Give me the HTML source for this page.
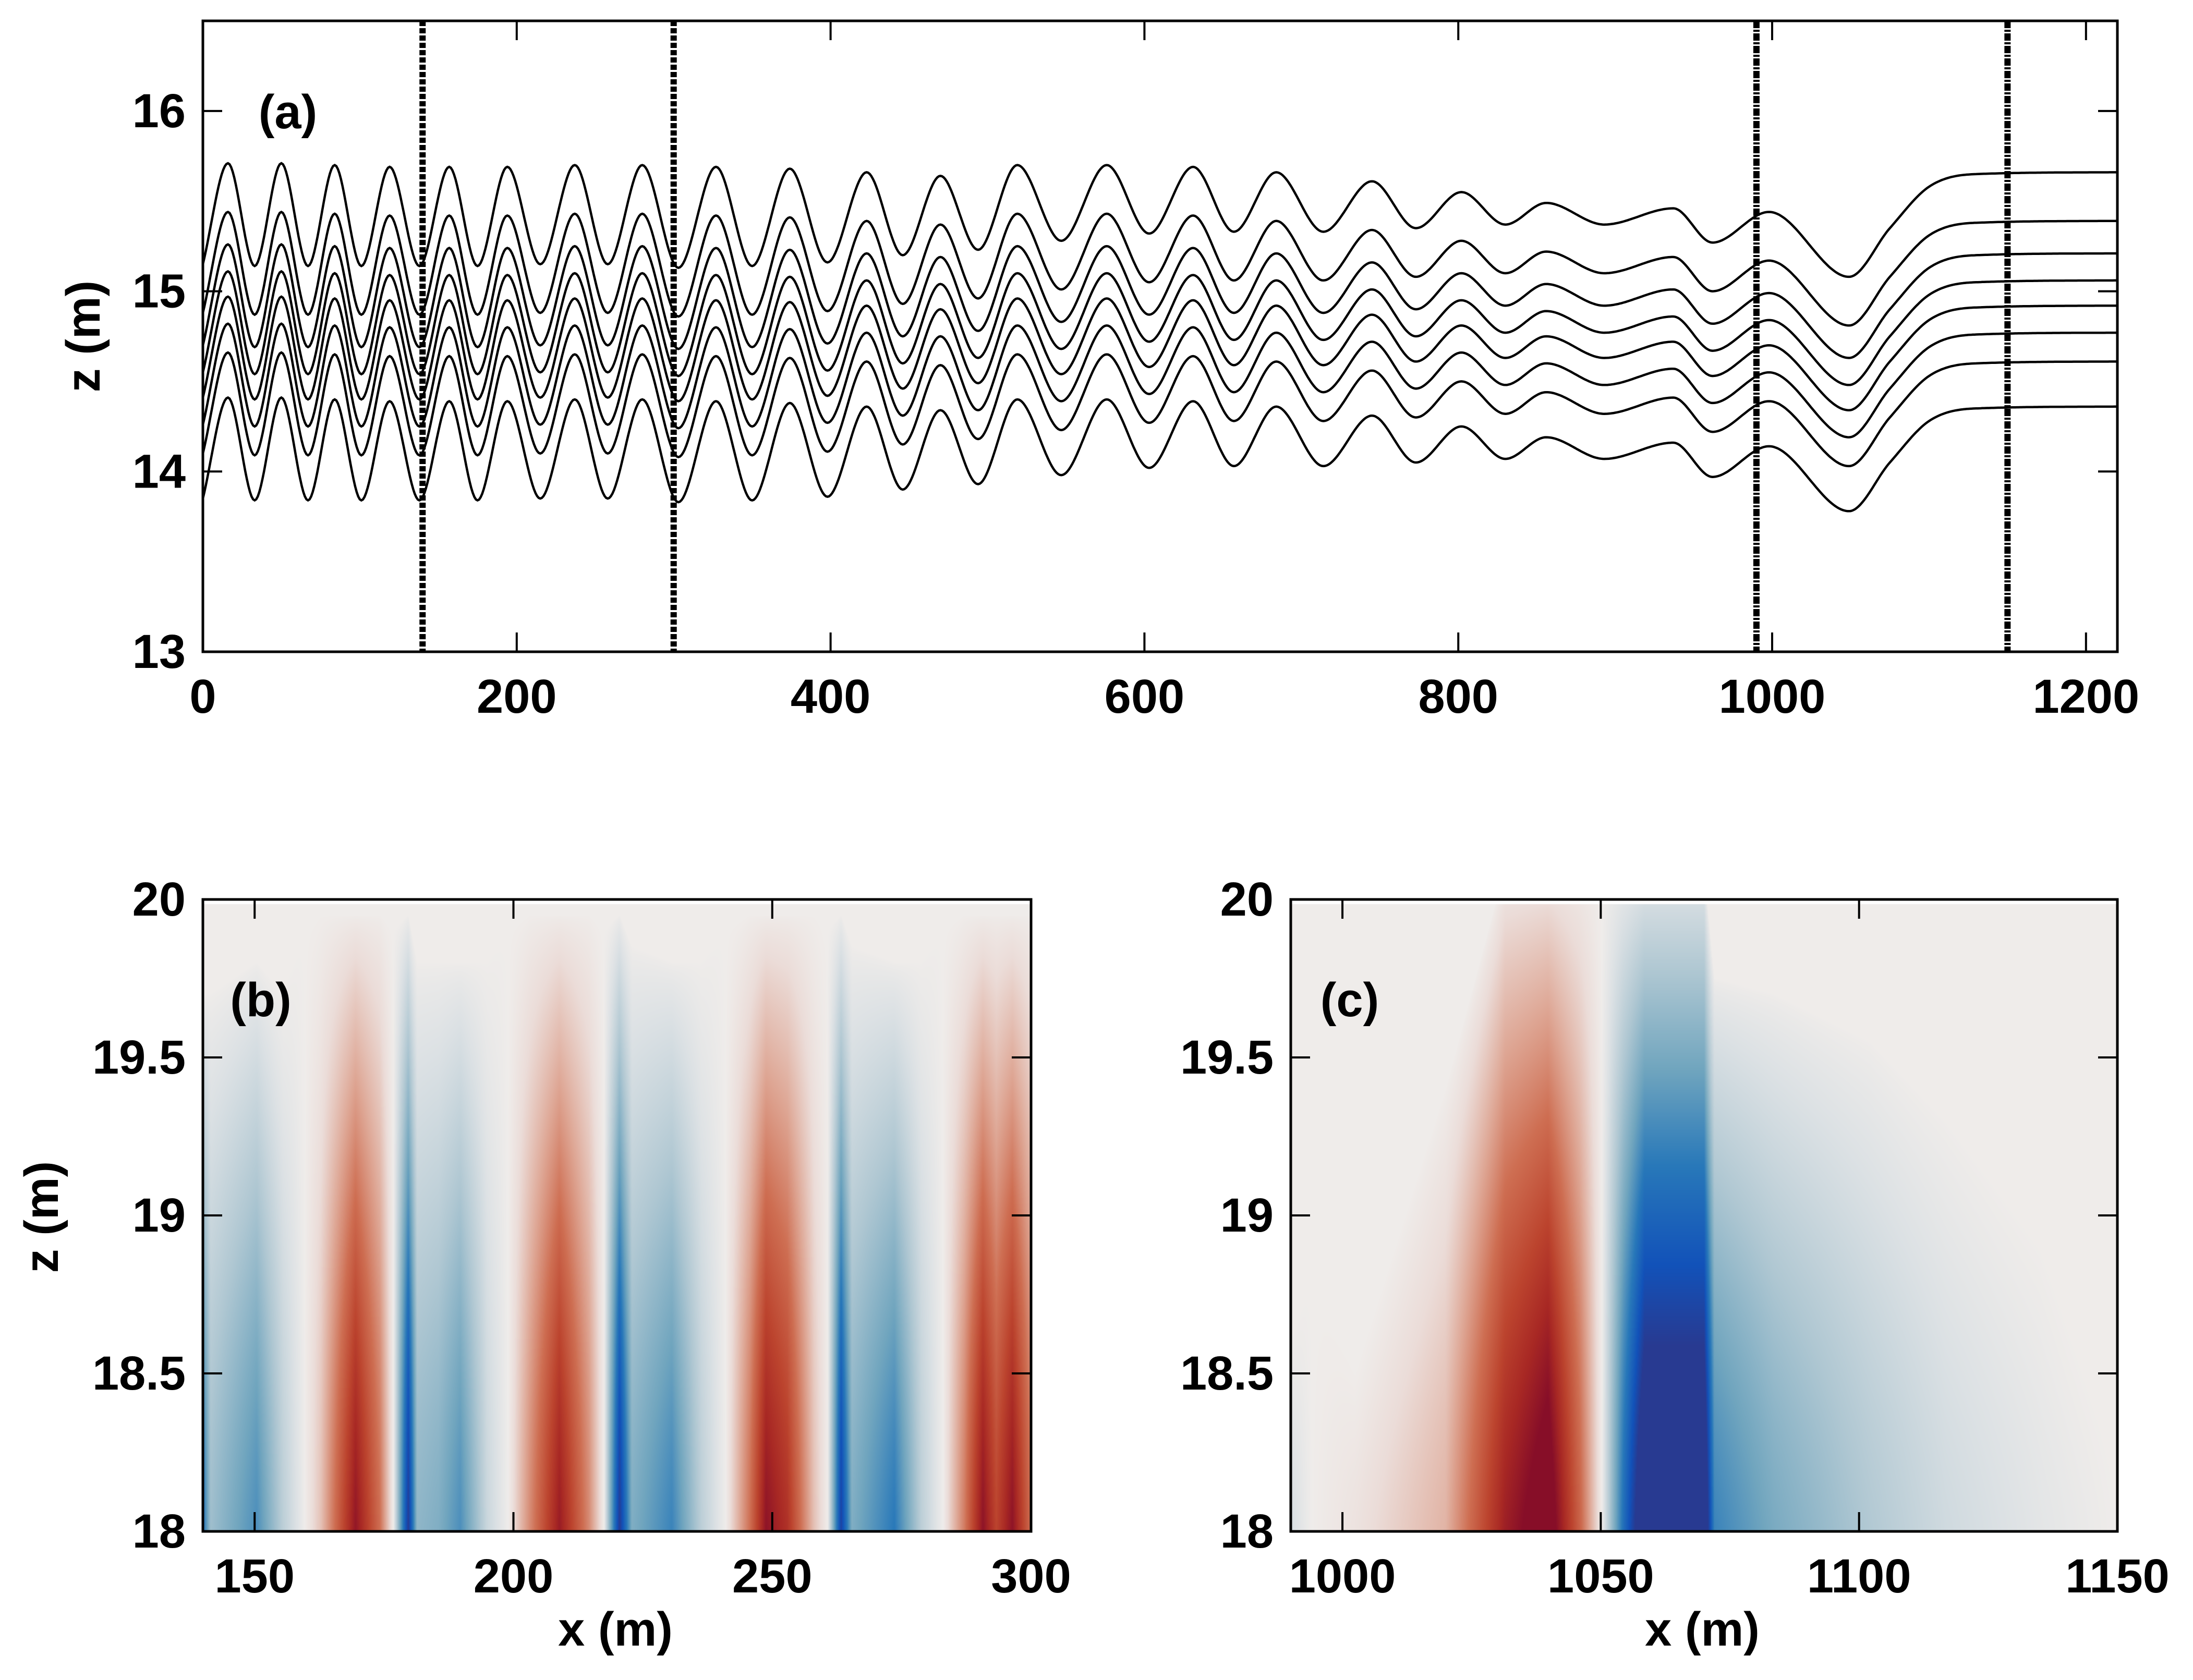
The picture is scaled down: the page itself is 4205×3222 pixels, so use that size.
<!DOCTYPE html>
<html><head><meta charset="utf-8">
<style>
html,body{margin:0;padding:0;background:#fff;}
#root{position:relative;width:4205px;height:3222px;overflow:hidden;background:#fff;}
canvas{position:absolute;}
svg{position:absolute;left:0;top:0;}
text{font-family:"Liberation Sans",Arial,sans-serif;font-weight:bold;fill:#000;}
</style></head>
<body>
<div id="root">
<canvas id="cb" width="1588" height="1212" style="left:389px;top:1725px"></canvas>
<canvas id="cc" width="1585" height="1212" style="left:2475px;top:1725px"></canvas>
<svg id="svg" width="4205" height="3222"></svg>
</div>
<script>
// ---------- Panel (a) data ----------
const nodeX = [0,16,33,50,67,84,101,119,138,157,175,194,215,237,258,280,303,327,350,374,398,423,446,470,494,519,547,576,603,631,657,684,714,745,773,802,830,856,893,937,962,998,1049,1075,1100,1130,1220];
const topCurveZ = [15.15,15.71,15.14,15.71,15.14,15.70,15.14,15.69,15.14,15.69,15.14,15.69,15.15,15.70,15.15,15.70,15.13,15.69,15.14,15.68,15.16,15.66,15.20,15.64,15.23,15.70,15.28,15.70,15.32,15.69,15.33,15.66,15.33,15.61,15.35,15.55,15.37,15.49,15.37,15.46,15.27,15.44,15.08,15.35,15.58,15.65,15.66];
const curveOffsets = [0,0.27,0.45,0.60,0.74,0.89,1.05,1.30];
const markerX = [140,300,990,1150];
const aXTicks = [0,200,400,600,800,1000,1200];
const aYTicks = [13,14,15,16];
// ---------- Panel (b) data ----------
const bX =   [140,141.5,150.4,155.5,159.7,162.8,169.5,174.2,176.8,179.7,181.4,185.6,189.7,194.9,199,203.2,208.9,214.6,217.5,220.5,222.9,230.6,236.3,241,245.7,248.8,252.9,258.1,260.7,263.3,265.4,273.6,278.8,283,287.1,290.7,293.3,296.4,300];
const bVal = [-0.7,-0.3,-0.55,-0.2,0,0.2,0.95,0.5,0,-1.0,-0.35,-0.4,-0.55,-0.15,0,0.4,0.92,0.4,0,-1.0,-0.4,-0.6,-0.2,0,0.5,0.97,0.8,0.2,0,-0.95,-0.4,-0.65,-0.2,0,0.45,0.97,0.7,0.97,0.5];
const bTop = [19.7,19.7,19.8,19.7,19.9,19.95,19.95,19.95,19.9,19.95,19.8,19.8,19.8,19.8,19.9,19.95,19.95,19.95,19.9,19.95,19.85,19.8,19.8,19.9,19.95,19.95,19.95,19.95,19.9,19.95,19.85,19.8,19.8,19.9,19.95,19.95,19.95,19.95,19.95];
const bXTicks = [150,200,250,300];
// ---------- Panel (c) data ----------
const cX =   [990,994,1002.5,1020,1031.5,1039.8,1046,1050.2,1054.4,1058.5,1070,1072,1083.4,1102,1116.6,1135,1150];
const cVal = [-0.1,0,0.06,0.25,0.9,1.15,0.55,0,-0.7,-1.25,-1.25,-0.6,-0.42,-0.24,-0.13,-0.05,0];
const cTop = [18.6,18.8,18.5,19.4,20.1,20.1,20.1,20.1,20.1,20.1,20.1,19.75,19.7,19.55,19.3,18.9,18.2];
const cXTicks = [1000,1050,1100,1150];
const bcYTicks = [18,18.5,19,19.5,20];

const NS="http://www.w3.org/2000/svg";
const svg=document.getElementById('svg');
function el(tag,attrs,parent){const e=document.createElementNS(NS,tag);for(const k in attrs)e.setAttribute(k,attrs[k]);(parent||svg).appendChild(e);return e;}
function txt(s,x,y,anchor,size,parent){const t=el('text',{x:x,y:y,'text-anchor':anchor,'font-size':size,'dominant-baseline':'central'},parent);t.textContent=s;return t;}

function makeAxes(L,R,T,B,x0,x1,y0,y1){return {L,R,T,B,sx:v=>L+(v-x0)/(x1-x0)*(R-L),sy:v=>B-(v-y0)/(y1-y0)*(B-T)};}
const A=makeAxes(389,4060,40,1250,0,1220,13,16.5);
const Bp=makeAxes(389,1977,1725,2937,140,300,18,20);
const Cp=makeAxes(2475,4060,1725,2937,990,1150,18,20);

function monotone(xs,ys){
  const n=xs.length,d=[],m=new Array(n);
  for(let i=0;i<n-1;i++)d.push((ys[i+1]-ys[i])/(xs[i+1]-xs[i]));
  m[0]=d[0];m[n-1]=d[n-2];
  for(let i=1;i<n-1;i++){m[i]=(d[i-1]*d[i]<=0)?0:(d[i-1]+d[i])/2;}
  for(let i=0;i<n-1;i++){if(d[i]===0){m[i]=0;m[i+1]=0;continue;}
    const a=m[i]/d[i],b=m[i+1]/d[i],s=a*a+b*b;if(s>9){const t=3/Math.sqrt(s);m[i]=t*a*d[i];m[i+1]=t*b*d[i];}}
  return function(x){let i=0;while(i<n-2&&x>xs[i+1])i++;
    const h=xs[i+1]-xs[i],t=(x-xs[i])/h,t2=t*t,t3=t2*t;
    return (2*t3-3*t2+1)*ys[i]+(t3-2*t2+t)*h*m[i]+(-2*t3+3*t2)*ys[i+1]+(t3-t2)*h*m[i+1];};
}
function lin(xs,ys,x){if(x<=xs[0])return ys[0];for(let i=0;i<xs.length-1;i++){if(x<=xs[i+1]){const t=(x-xs[i])/(xs[i+1]-xs[i]);return ys[i]+t*(ys[i+1]-ys[i]);}}return ys[ys.length-1];}

// ---- Panel (a) ----
const gA=el('g',{});


curveOffsets.forEach((off,k)=>{
  const ys=topCurveZ.map(z=>z-off);
  const f=monotone(nodeX,ys);
  let d='';
  for(let x=0;x<=1220;x+=1){d+=(x?'L':'M')+A.sx(x).toFixed(1)+','+A.sy(f(x)).toFixed(1);}
  const p=el('path',{d:d,fill:'none',stroke:'#000','stroke-width':4.5},gA);
  
  
});
markerX.forEach((mx,i)=>{
  const l=el('line',{x1:A.sx(mx),x2:A.sx(mx),y1:A.T,y2:A.B,stroke:'#000','stroke-width':12,'stroke-dasharray':i<2?'10 4':'14 3 4 3'},gA);
  
  
});

function frame(P,xt,yt,name,yfmt){
  const g=el('g',{});
  
  
  el('rect',{x:P.L,y:P.T,width:P.R-P.L,height:P.B-P.T,fill:'none',stroke:'#000','stroke-width':5},g);
  xt.forEach(v=>{const x=P.sx(v);
    el('line',{x1:x,x2:x,y1:P.B,y2:P.B-37,stroke:'#000','stroke-width':4},g);
    el('line',{x1:x,x2:x,y1:P.T,y2:P.T+37,stroke:'#000','stroke-width':4},g);
    const t=txt(String(v),x,P.B+86,'middle',92,g);
    
    });
  yt.forEach(v=>{const y=P.sy(v);
    el('line',{x1:P.L,x2:P.L+37,y1:y,y2:y,stroke:'#000','stroke-width':4},g);
    el('line',{x1:P.R,x2:P.R-37,y1:y,y2:y,stroke:'#000','stroke-width':4},g);
    const t=txt(yfmt(v),P.L-33,y,'end',92,g);
    
    });
}
frame(A,aXTicks,aYTicks,'panel-a',v=>String(v));

// ---- Heatmaps ----
const stops=[[-1,[40,58,145]],[-0.85,[18,82,185]],[-0.65,[40,120,185]],[-0.45,[112,165,190]],[-0.25,[175,199,210]],[-0.08,[220,225,228]],[0,[239,236,234]],[0.1,[235,220,216]],[0.3,[222,166,148]],[0.5,[206,110,82]],[0.7,[188,68,46]],[0.85,[168,40,36]],[1,[135,14,40]]];
function cmap(v){v=Math.max(-1,Math.min(1,v));for(let i=0;i<stops.length-1;i++){if(v<=stops[i+1][0]){const t=(v-stops[i][0])/(stops[i+1][0]-stops[i][0]);return stops[i][1].map((c,j)=>Math.round(c+t*(stops[i+1][1][j]-c)));}}return stops[stops.length-1][1];}
function drawHeat(id,P,xs,vals,tops,x0,x1){
  const cv=document.getElementById(id),ctx=cv.getContext('2d'),W=cv.width,H=cv.height;
  const img=ctx.createImageData(W,H);
  for(let px=0;px<W;px++){
    const x=x0+(px+0.5)/W*(x1-x0);
    const v=lin(xs,vals,x),zt=lin(xs,tops,x);
    for(let py=0;py<H;py++){
      const z=20-(py+0.5)/H*2;
      let s=(zt-z)/(zt-18);s=Math.max(0,Math.min(1,s));
      const f=s*s*(3-2*s)*0.35+Math.pow(s,0.7)*0.65;
      let c=cmap(v*f);
      if(py<9)c=[255,255,255];
      const o=(py*W+px)*4;img.data[o]=c[0];img.data[o+1]=c[1];img.data[o+2]=c[2];img.data[o+3]=255;
    }
  }
  ctx.putImageData(img,0,0);
}
drawHeat('cb',Bp,bX,bVal,bTop,140,300);
drawHeat('cc',Cp,cX,cVal,cTop,990,1150);
frame(Bp,bXTicks,bcYTicks,'panel-b',v=>String(v));
frame(Cp,cXTicks,bcYTicks,'panel-c',v=>String(v));

function label(s,x,y,name,rot){const t=txt(s,x,y,'middle',92);if(rot)t.setAttribute('transform','rotate(-90 '+x+' '+y+')');
  
  return t;}
label('(a)',552,215,'panel-label-a');
label('(b)',500,1918,'panel-label-b');
label('(c)',2588,1918,'panel-label-c');
label('z (m)',160,645,'y-axis-title-a',true);
label('z (m)',80,2334,'y-axis-title-b',true);
label('x (m)',1180,3125,'x-axis-title-b');
label('x (m)',3264,3125,'x-axis-title-c');
</script>
</body></html>
